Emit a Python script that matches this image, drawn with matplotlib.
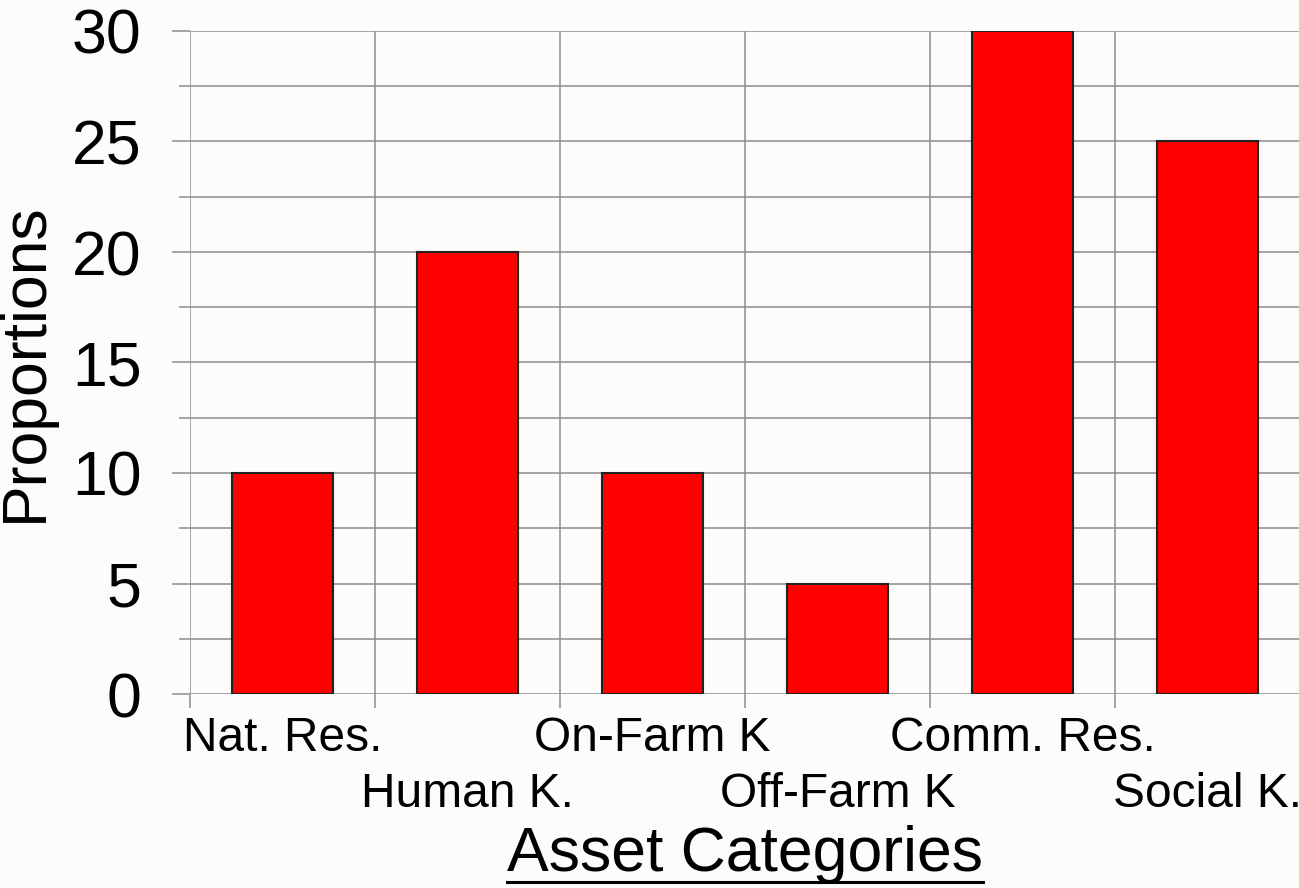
import numpy as np
import matplotlib
matplotlib.use('Agg')
import matplotlib.pyplot as plt
from matplotlib.lines import Line2D

plt.rcParams['font.family'] = ['Liberation Sans', 'DejaVu Sans']

# Daten
categories = ['Nat. Res.', 'Human K.', 'On-Farm K', 'Off-Farm K', 'Comm. Res.', 'Social K.']
proportions = [10, 20, 10, 5, 30, 25]

bg = '#fdfcfa'
grid_col = '#8c8c8c'

fig = plt.figure(figsize=(12.99, 8.88), dpi=100, facecolor=bg)
ax = fig.add_axes([190/1299, 194/888, 1110/1299, 663/888], facecolor=bg)

x = np.arange(len(categories))
ax.bar(x, proportions, width=0.55, color='#ff0000', edgecolor='#222222', linewidth=1.5, zorder=3)

ax.set_xlim(-0.5, len(categories) - 0.5)
ax.set_ylim(0, 30)

# Gitter und Ticks
ax.set_yticks(np.arange(0, 31, 5))
ax.set_yticks(np.arange(0, 31, 2.5), minor=True)
ax.set_xticks(x)
ax.set_xticks(np.arange(-0.5, len(categories), 1), minor=True)
ax.set_xticklabels(categories, fontsize=34.5)
ax.tick_params(axis='x', which='major', length=0, pad=16)
# jede zweite Beschriftung eine Zeile tiefer
for i, t in enumerate(ax.xaxis.get_major_ticks()):
    if i % 2 == 1:
        t.set_pad(16 + 40)
ax.tick_params(axis='x', which='minor', length=10, width=1.1, color=grid_col)
ax.tick_params(axis='y', which='major', length=13, width=1.1, color=grid_col, labelsize=45, pad=22)
ax.tick_params(axis='y', which='minor', length=8, width=1.1, color=grid_col)
ax.grid(True, axis='y', which='both', color=grid_col, linewidth=1.1, zorder=0)
ax.grid(True, axis='x', which='minor', color=grid_col, linewidth=1.1, zorder=0)
ax.set_axisbelow(True)
for s in ax.spines.values():
    s.set_visible(False)

ax.set_ylabel('Proportions', fontsize=45, labelpad=12)
xl = ax.set_xlabel('Asset Categories', fontsize=45, labelpad=6)

# Unterstreichung der x-Achsenbeschriftung
fig.canvas.draw()
bb = xl.get_window_extent(renderer=fig.canvas.get_renderer())
y_line = (888 - 882) / 888
fig.add_artist(Line2D([bb.x0 / 1299, bb.x1 / 1299], [y_line, y_line],
                      color='black', linewidth=2.2, transform=fig.transFigure))

fig.savefig('out.png', dpi=100, facecolor=bg)
